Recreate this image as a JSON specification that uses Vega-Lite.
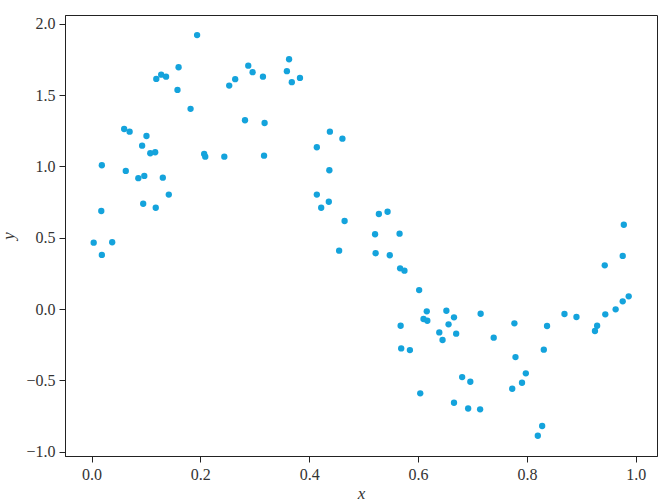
{
  "$schema": "https://vega.github.io/schema/vega-lite/v6.json",
  "width": 592,
  "height": 441,
  "autosize": {"type": "none"},
  "padding": {"left": 65, "top": 15, "right": 10, "bottom": 47},
  "background": "white",
  "config": {
    "view": {"stroke": "#222222", "strokeWidth": 1},
    "axis": {
      "labelFont": "'Liberation Serif', 'Times New Roman', serif",
      "labelFontSize": 16,
      "labelColor": "#333333",
      "titleFont": "'Liberation Serif', 'Times New Roman', serif",
      "titleFontSize": 17,
      "titleFontStyle": "italic",
      "titleFontWeight": "normal",
      "titleColor": "#333333",
      "domainColor": "#222222",
      "tickColor": "#222222",
      "tickSize": 6,
      "grid": false,
      "labelPadding": 4
    }
  },
  "data": {
    "values": [
      {"x": 0.194, "y": 1.92}, {"x": 0.288, "y": 1.706}, {"x": 0.296, "y": 1.66}, {"x": 0.160, "y": 1.695},
      {"x": 0.128, "y": 1.643}, {"x": 0.137, "y": 1.629}, {"x": 0.119, "y": 1.613}, {"x": 0.158, "y": 1.536},
      {"x": 0.264, "y": 1.611}, {"x": 0.253, "y": 1.566}, {"x": 0.182, "y": 1.403}, {"x": 0.282, "y": 1.323},
      {"x": 0.060, "y": 1.262}, {"x": 0.070, "y": 1.243}, {"x": 0.101, "y": 1.213}, {"x": 0.093, "y": 1.145},
      {"x": 0.108, "y": 1.092}, {"x": 0.117, "y": 1.099}, {"x": 0.207, "y": 1.087}, {"x": 0.209, "y": 1.068},
      {"x": 0.244, "y": 1.068}, {"x": 0.019, "y": 1.008}, {"x": 0.063, "y": 0.968}, {"x": 0.086, "y": 0.917},
      {"x": 0.097, "y": 0.933}, {"x": 0.131, "y": 0.921}, {"x": 0.142, "y": 0.802}, {"x": 0.095, "y": 0.738},
      {"x": 0.118, "y": 0.710}, {"x": 0.018, "y": 0.687}, {"x": 0.004, "y": 0.465}, {"x": 0.038, "y": 0.468},
      {"x": 0.019, "y": 0.379},
      {"x": 0.315, "y": 1.629}, {"x": 0.363, "y": 1.751}, {"x": 0.359, "y": 1.667}, {"x": 0.368, "y": 1.590},
      {"x": 0.383, "y": 1.620}, {"x": 0.318, "y": 1.304}, {"x": 0.317, "y": 1.075}, {"x": 0.438, "y": 1.243},
      {"x": 0.461, "y": 1.194}, {"x": 0.414, "y": 1.134}, {"x": 0.437, "y": 0.973}, {"x": 0.414, "y": 0.802},
      {"x": 0.436, "y": 0.752}, {"x": 0.422, "y": 0.710}, {"x": 0.465, "y": 0.617}, {"x": 0.528, "y": 0.666},
      {"x": 0.544, "y": 0.682}, {"x": 0.521, "y": 0.524}, {"x": 0.566, "y": 0.528}, {"x": 0.455, "y": 0.409},
      {"x": 0.522, "y": 0.391}, {"x": 0.548, "y": 0.377},
      {"x": 0.567, "y": 0.285}, {"x": 0.575, "y": 0.269}, {"x": 0.602, "y": 0.133}, {"x": 0.616, "y": -0.016},
      {"x": 0.610, "y": -0.070}, {"x": 0.617, "y": -0.082}, {"x": 0.652, "y": -0.012}, {"x": 0.666, "y": -0.058},
      {"x": 0.656, "y": -0.107}, {"x": 0.715, "y": -0.033}, {"x": 0.639, "y": -0.164}, {"x": 0.670, "y": -0.173},
      {"x": 0.645, "y": -0.217}, {"x": 0.739, "y": -0.201}, {"x": 0.777, "y": -0.100}, {"x": 0.837, "y": -0.119},
      {"x": 0.869, "y": -0.035}, {"x": 0.891, "y": -0.056}, {"x": 0.568, "y": -0.117}, {"x": 0.569, "y": -0.276},
      {"x": 0.585, "y": -0.288}, {"x": 0.831, "y": -0.285}, {"x": 0.779, "y": -0.337}, {"x": 0.798, "y": -0.451},
      {"x": 0.791, "y": -0.517}, {"x": 0.773, "y": -0.559}, {"x": 0.681, "y": -0.477}, {"x": 0.696, "y": -0.510},
      {"x": 0.604, "y": -0.591}, {"x": 0.666, "y": -0.657}, {"x": 0.692, "y": -0.697}, {"x": 0.714, "y": -0.703},
      {"x": 0.828, "y": -0.820}, {"x": 0.820, "y": -0.888},
      {"x": 0.925, "y": -0.154}, {"x": 0.929, "y": -0.117}, {"x": 0.944, "y": -0.037}, {"x": 0.963, "y": -0.002},
      {"x": 0.976, "y": 0.054}, {"x": 0.987, "y": 0.089}, {"x": 0.943, "y": 0.306}, {"x": 0.976, "y": 0.372},
      {"x": 0.978, "y": 0.591}
    ]
  },
  "mark": {"type": "circle", "size": 40, "opacity": 1, "color": "#14a3dc"},
  "encoding": {
    "x": {
      "field": "x", "type": "quantitative",
      "scale": {"domain": [-0.0487, 1.039], "nice": false, "zero": false},
      "axis": {"values": [0, 0.2, 0.4, 0.6, 0.8, 1.0], "format": ".1f", "title": "x", "titlePadding": 3}
    },
    "y": {
      "field": "y", "type": "quantitative",
      "scale": {"domain": [-1.0302, 2.061], "nice": false, "zero": false},
      "axis": {"values": [-1, -0.5, 0, 0.5, 1, 1.5, 2], "format": ".1f", "title": "y", "titlePadding": 8}
    }
  }
}
